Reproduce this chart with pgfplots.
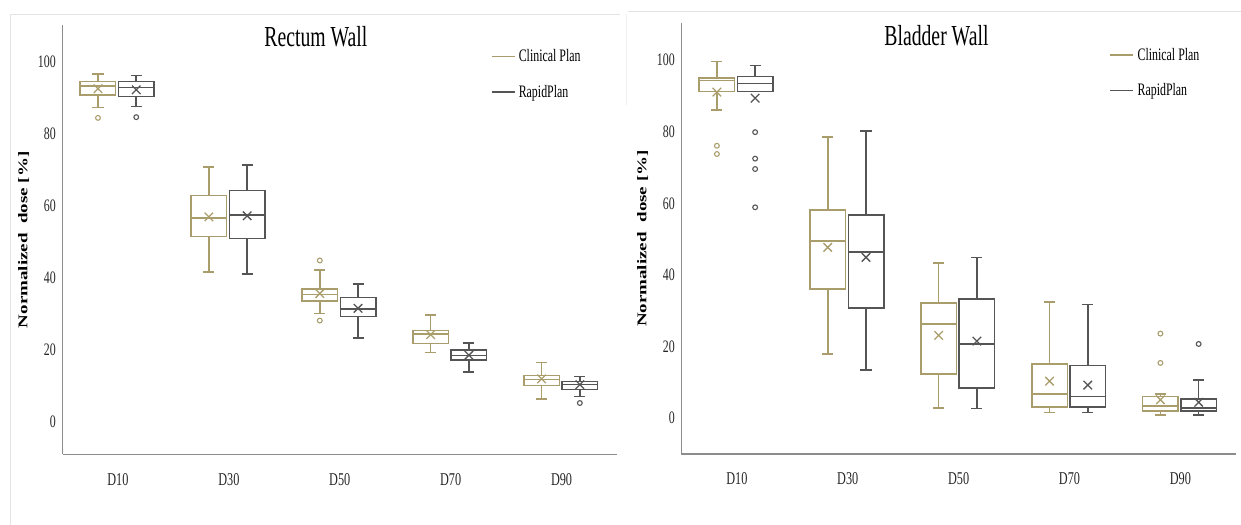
\documentclass[border=0pt]{standalone}
\usepackage{fontspec}
\setmainfont{Liberation Serif}[FakeStretch=0.68]
\newfontfamily\ylabfont{Liberation Serif}
\usepackage{graphicx}
\usepackage{pgfplots}
\pgfplotsset{compat=1.18}
\usepgfplotslibrary{statistics}
\definecolor{clin}{RGB}{170,157,108}
\definecolor{rapid}{RGB}{85,85,85}
\definecolor{axgray}{RGB}{140,140,140}
\definecolor{framec}{RGB}{228,228,228}

\pgfplotsset{
  panel/.style={
    scale only axis, width=554.5bp, height=429.5bp,
    anchor=south west,
    xmin=-0.5, xmax=4.5, ymax=110.3,
    axis lines*=left,
    axis line style={axgray, line width=1.6bp},
    major tick length=0pt,
    xtick={0,...,4}, xticklabels={D10,D30,D50,D70,D90},
    ytick={0,20,...,100},
    tick label style={/pgf/number format/assume math mode=true},
    yticklabel style={font=\fontsize{17.5bp}{20bp}\selectfont, inner sep=0pt, xshift=-6.5bp, text=black!85},
    xticklabel style={font=\fontsize{18bp}{20bp}\selectfont, inner sep=0pt, yshift=-19bp, text=black!85},
    title style={font=\fontsize{29bp}{32bp}\selectfont, anchor=center, inner sep=0pt},
    ylabel={\scalebox{1}[0.7]{\ylabfont\bfseries\fontsize{19bp}{22bp}\selectfont Normalized\ \ dose [\%]}},
    ylabel style={at={(axis description cs:-0.07,0.5)}, anchor=center, inner sep=0pt},
    boxplot/draw direction=y,
    boxplot/box extend=0.32,
    boxplot/whisker extend=0.1,
    legend style={draw=none, fill=none, anchor=north west,
      font=\fontsize{17.5bp}{20bp}\selectfont, row sep=18bp, inner sep=0pt,
      nodes={inner ysep=2bp, inner xsep=3.5bp}},
    legend image code/.code={\draw[##1, line width=1.5bp] (0bp,0bp) -- (23bp,0bp);},
    legend cell align=left,
  },
  cl/.style={clin, line width=1.5bp},
  rp/.style={rapid, line width=1.5bp},
  meanC/.style={clin, only marks, mark=x, mark size=6bp, line width=1.3bp},
  meanR/.style={rapid, only marks, mark=x, mark size=6bp, line width=1.3bp},
  outC/.style={clin, only marks, mark=o, mark size=2.4bp, line width=1.1bp},
  outR/.style={rapid, only marks, mark=o, mark size=2.4bp, line width=1.1bp},
}

\begin{document}
\begin{tikzpicture}
\path[use as bounding box] (0,0) rectangle (1241bp,525bp);
\draw[framec, line width=1bp] (10bp,510bp) -- (620bp,510bp);
\draw[framec, line width=1bp] (10bp,510bp) -- (10bp,0bp);
\draw[framec, line width=1bp] (628bp,513bp) -- (1241bp,513bp);
\draw[framec!60, line width=1bp] (626bp,511bp) -- (626bp,420bp);

% ---------------- Rectum Wall ----------------
\begin{axis}[panel, at={(62.5bp,70.5bp)}, ymin=-9,
  title={Rectum Wall}, title style={at={(0.457,0.958)}},
  legend style={at={(0.772,0.948)}}]
\addlegendimage{clin}\addlegendentry{Clinical Plan}
\addlegendimage{rapid}\addlegendentry{RapidPlan}
% Clinical
\addplot[cl, boxplot prepared={draw position=-0.18, lower whisker=87.4, lower quartile=90.9, median=93.3, upper quartile=94.6, upper whisker=96.7}] coordinates {};
\addplot[cl, boxplot prepared={draw position=0.82, lower whisker=41.7, lower quartile=51.6, median=56.7, upper quartile=63.0, upper whisker=70.8}] coordinates {};
\addplot[cl, boxplot prepared={draw position=1.82, lower whisker=30.2, lower quartile=33.6, median=35.4, upper quartile=37.0, upper whisker=42.2}] coordinates {};
\addplot[cl, boxplot prepared={draw position=2.82, lower whisker=19.3, lower quartile=21.9, median=24.5, upper quartile=25.4, upper whisker=29.7}] coordinates {};
\addplot[cl, boxplot prepared={draw position=3.82, lower whisker=6.4, lower quartile=10.1, median=11.8, upper quartile=13.0, upper whisker=16.6}] coordinates {};
% RapidPlan
\addplot[rp, boxplot prepared={draw position=0.165, lower whisker=87.6, lower quartile=90.5, median=93.0, upper quartile=94.6, upper whisker=96.3}] coordinates {};
\addplot[rp, boxplot prepared={draw position=1.165, lower whisker=41.2, lower quartile=51.0, median=57.5, upper quartile=64.3, upper whisker=71.4}] coordinates {};
\addplot[rp, boxplot prepared={draw position=2.165, lower whisker=23.4, lower quartile=29.3, median=31.4, upper quartile=34.6, upper whisker=38.4}] coordinates {};
\addplot[rp, boxplot prepared={draw position=3.165, lower whisker=13.9, lower quartile=17.2, median=18.5, upper quartile=20.0, upper whisker=22.0}] coordinates {};
\addplot[rp, boxplot prepared={draw position=4.165, lower whisker=7.1, lower quartile=9.1, median=10.4, upper quartile=11.3, upper whisker=12.7}] coordinates {};
% means
\addplot[meanC] coordinates {(-0.18,92.6) (0.82,57.0) (1.82,35.7) (2.82,24.3) (3.82,12.0)};
\addplot[meanR] coordinates {(0.165,92.3) (1.165,57.3) (2.165,31.6) (3.165,18.6) (4.165,10.4)};
% outliers
\addplot[outC] coordinates {(-0.18,84.5) (1.82,44.9) (1.82,28.2)};
\addplot[outR] coordinates {(0.165,84.7) (4.165,5.3)};
\end{axis}

% ---------------- Bladder Wall ----------------
\begin{axis}[panel, at={(681.4bp,71.2bp)}, width=554.4bp, height=430.4bp, ymin=-10,
  title={Bladder Wall}, title style={at={(0.46,0.958)}},
  legend style={at={(0.772,0.948)}}]
\addlegendimage{clin}\addlegendentry{Clinical Plan}
\addlegendimage{rapid}\addlegendentry{RapidPlan}
% Clinical
\addplot[cl, boxplot prepared={draw position=-0.18, lower whisker=86.1, lower quartile=91.3, median=94.3, upper quartile=95.1, upper whisker=99.7}] coordinates {};
\addplot[cl, boxplot prepared={draw position=0.82, lower whisker=17.9, lower quartile=36.0, median=49.5, upper quartile=58.2, upper whisker=78.5}] coordinates {};
\addplot[cl, boxplot prepared={draw position=1.82, lower whisker=2.8, lower quartile=12.3, median=26.3, upper quartile=32.1, upper whisker=43.3}] coordinates {};
\addplot[cl, boxplot prepared={draw position=2.82, lower whisker=1.6, lower quartile=3.1, median=6.7, upper quartile=15.1, upper whisker=32.4}] coordinates {};
\addplot[cl, boxplot prepared={draw position=3.82, lower whisker=0.9, lower quartile=1.9, median=3.3, upper quartile=6.0, upper whisker=6.7}] coordinates {};
% RapidPlan
\addplot[rp, boxplot prepared={draw position=0.165, lower whisker=91.3, lower quartile=91.3, median=93.5, upper quartile=95.5, upper whisker=98.6}] coordinates {};
\addplot[rp, boxplot prepared={draw position=1.165, lower whisker=13.4, lower quartile=30.8, median=46.4, upper quartile=56.8, upper whisker=80.2}] coordinates {};
\addplot[rp, boxplot prepared={draw position=2.165, lower whisker=2.6, lower quartile=8.4, median=20.7, upper quartile=33.2, upper whisker=44.9}] coordinates {};
\addplot[rp, boxplot prepared={draw position=3.165, lower whisker=1.6, lower quartile=3.1, median=6.0, upper quartile=14.7, upper whisker=31.7}] coordinates {};
\addplot[rp, boxplot prepared={draw position=4.165, lower whisker=0.9, lower quartile=1.9, median=2.8, upper quartile=5.3, upper whisker=10.6}] coordinates {};
% means
\addplot[meanC] coordinates {(-0.18,91.1) (0.82,47.7) (1.82,23.1) (2.82,10.3) (3.82,5.1)};
\addplot[meanR] coordinates {(0.165,89.4) (1.165,44.9) (2.165,21.5) (3.165,9.2) (4.165,4.4)};
% outliers
\addplot[outC] coordinates {(-0.18,76.1) (-0.18,73.8) (3.82,23.6) (3.82,15.4)};
\addplot[outR] coordinates {(0.165,79.9) (0.165,72.5) (0.165,69.6) (0.165,58.9) (4.165,20.7)};
\end{axis}
\end{tikzpicture}
\end{document}
